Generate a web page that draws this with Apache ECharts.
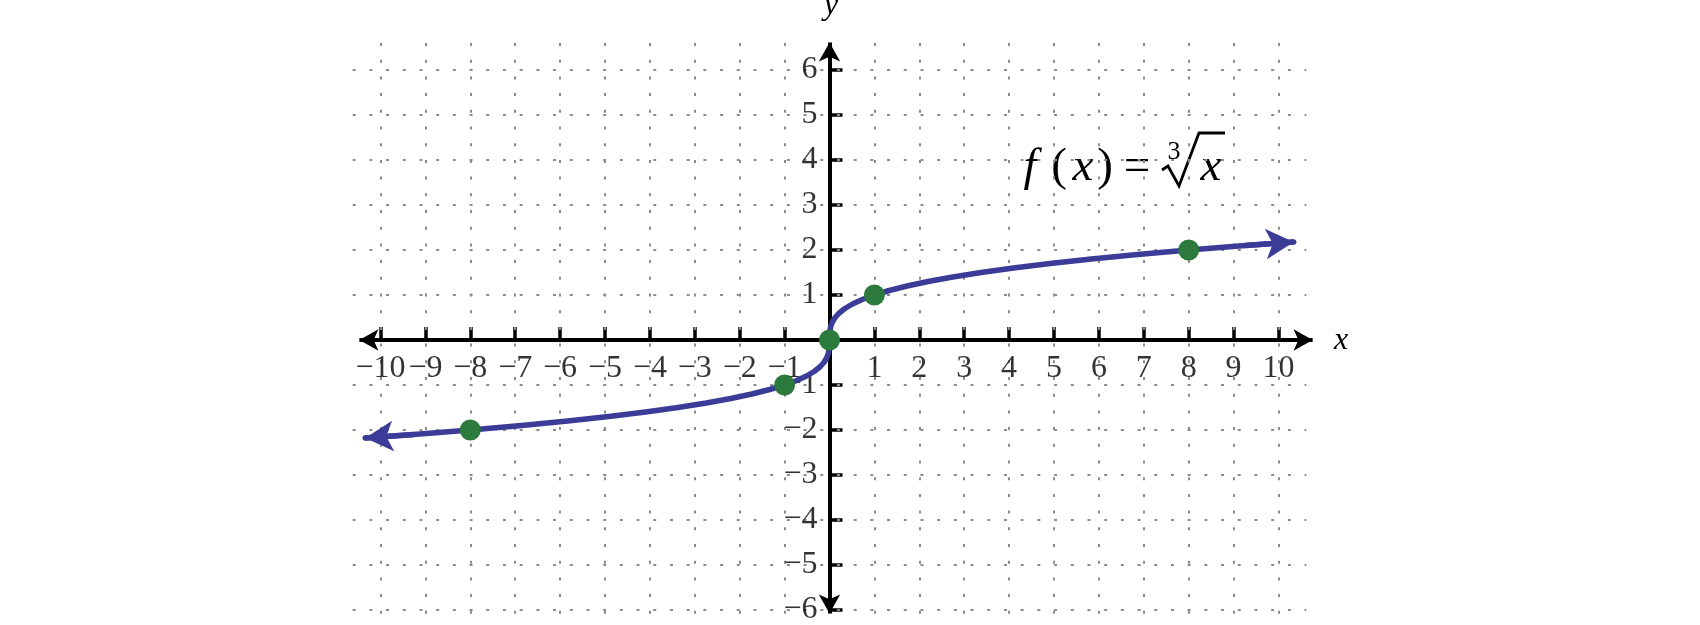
<!DOCTYPE html>
<html><head><meta charset="utf-8">
<script src="https://cdn.jsdelivr.net/npm/echarts@6/dist/echarts.min.js"></script>
<style>html,body{margin:0;padding:0;background:#fff}#c{width:1700px;height:625px}</style>
</head><body><div id="c"></div>
<script>
// ---- data ----
const xTickValues = [-10,-9,-8,-7,-6,-5,-4,-3,-2,-1,1,2,3,4,5,6,7,8,9,10];
const yTickValues = [-6,-5,-4,-3,-2,-1,1,2,3,4,5,6];
const curveX = [-10.34,-9.261,-8,-6.859,-5.832,-4.913,-4.096,-3.375,-2.744,-2.197,-1.728,-1.331,-1,-0.729,-0.512,-0.343,-0.216,-0.125,-0.064,-0.027,-0.008,-0.001,0,0.001,0.008,0.027,0.064,0.125,0.216,0.343,0.512,0.729,1,1.331,1.728,2.197,2.744,3.375,4.096,4.913,5.832,6.859,8,9.261,10.34];
const curveY = [-2.178,-2.1,-2,-1.9,-1.8,-1.7,-1.6,-1.5,-1.4,-1.3,-1.2,-1.1,-1,-0.9,-0.8,-0.7,-0.6,-0.5,-0.4,-0.3,-0.2,-0.1,0,0.1,0.2,0.3,0.4,0.5,0.6,0.7,0.8,0.9,1,1.1,1.2,1.3,1.4,1.5,1.6,1.7,1.8,1.9,2,2.1,2.178];
const pointX = [-8,-1,0,1,8];
const pointY = [-2,-1,0,1,2];
const xAxisName = 'x';
const yAxisName = 'y';

// ---- layout / style constants ----
const X_MIN = -11, X_MAX = 11, Y_MIN = -7, Y_MAX = 7;
const GRID_X_EXT = 10.62, GRID_Y_TOP = 6.6, GRID_Y_BOT = -6.7;
const X_AXIS_ENDS = [-10.47, 10.76], Y_AXIS_ENDS = [6.61, -6.08];
const BLUE = '#3b3b98', GREEN = '#2d7b3c', GRAYDOT = '#8c8c8c';
const SERIF = 'Liberation Serif';

const fmt = v => v < 0 ? '\u2212' + (-v) : String(v);

const gridLines = [];
yTickValues.forEach(v => gridLines.push({coords: [[-GRID_X_EXT, v], [GRID_X_EXT, v]]}));
xTickValues.forEach(v => gridLines.push({coords: [[v, GRID_Y_TOP], [v, GRID_Y_BOT]]}));

const curveData = curveX.map((x, i) => [x, curveY[i]]);
const n = curveData.length;
const curveArrows = [
  {coords: [curveData[1], curveData[0]]},
  {coords: [curveData[n - 2], curveData[n - 1]]}
];

const chart = echarts.init(document.getElementById('c'), null, {renderer: 'canvas'});
const gl = 335.6, gw = 987.8, gt = 25, gh = 630;

const tickFont = {fontFamily: SERIF, fontSize: 32, color: '#000'};
const formulaFont = {fontFamily: SERIF, fontSize: 47, fill: '#000', verticalAlign: 'middle', align: 'center'};
const FY = 168;
chart.setOption({
  animation: false,
  grid: {left: gl, width: gw, top: gt, height: gh, containLabel: false, outerBoundsMode: 'none'},
  xAxis: {
    type: 'value', min: X_MIN, max: X_MAX, interval: 1,
    axisLine: {show: true, onZero: true, lineStyle: {opacity: 0}},
    axisTick: {show: true, inside: true, length: 13, customValues: xTickValues, lineStyle: {color: '#000', width: 3.5}},
    axisLabel: {show: false},
    splitLine: {show: false}
  },
  yAxis: {
    type: 'value', min: Y_MIN, max: Y_MAX, interval: 1,
    axisLine: {show: true, onZero: true, lineStyle: {opacity: 0}},
    axisTick: {show: true, inside: true, length: 13, customValues: yTickValues, lineStyle: {color: '#000', width: 3.5}},
    axisLabel: {show: false},
    splitLine: {show: false}
  },
  series: [
    {type: 'lines', coordinateSystem: 'cartesian2d', z: 1, silent: true, symbol: 'none',
     lineStyle: {color: GRAYDOT, width: 2, type: [3, 13.7], opacity: 1}, data: gridLines},
    // x tick labels
    {type: 'scatter', z: 2, silent: true, symbolSize: 0, data: xTickValues.map(v => [v, 0]),
     label: Object.assign({show: true, position: 'bottom', distance: 13, formatter: p => fmt(p.value[0])}, tickFont)},
    // y tick labels
    {type: 'scatter', z: 2, silent: true, symbolSize: 0, data: yTickValues.map(v => [0, v]),
     label: Object.assign({show: true, position: 'left', distance: 12, formatter: p => fmt(p.value[1])}, tickFont)},
    {type: 'lines', coordinateSystem: 'cartesian2d', z: 3, silent: true,
     symbol: ['arrow', 'arrow'], symbolSize: [[16, 19], [16, 19]],
     lineStyle: {color: '#000', width: 4, opacity: 1},
     data: [{coords: [[X_AXIS_ENDS[0], 0], [X_AXIS_ENDS[1], 0]]}, {coords: [[0, Y_AXIS_ENDS[0]], [0, Y_AXIS_ENDS[1]]]}]},
    {type: 'line', data: curveData, symbol: 'none', showSymbol: false, z: 4, silent: true,
     lineStyle: {color: BLUE, width: 5.5, cap: 'round', join: 'round'}},
    {type: 'lines', coordinateSystem: 'cartesian2d', z: 4, silent: true,
     symbol: ['none', 'arrow'], symbolSize: [[1, 1], [23, 28]],
     itemStyle: {color: BLUE},
     lineStyle: {color: BLUE, width: 5.5, opacity: 1}, data: curveArrows},
    {type: 'scatter', data: pointX.map((x, i) => [x, pointY[i]]), symbol: 'circle', symbolSize: 21, z: 5,
     itemStyle: {color: GREEN, opacity: 1}}
  ],
  graphic: [
    {type: 'text', x: 1341, y: 341, style: {text: xAxisName, fontFamily: SERIF, fontStyle: 'italic', fontSize: 32, fill: '#000', align: 'center', verticalAlign: 'middle'}},
    {type: 'text', x: 831, y: 6, style: {text: yAxisName, fontFamily: SERIF, fontStyle: 'italic', fontSize: 32, fill: '#000', align: 'center', verticalAlign: 'middle'}},
    {type: 'text', x: 1030, y: FY, style: Object.assign({text: 'f', fontStyle: 'italic'}, formulaFont)},
    {type: 'text', x: 1059, y: FY, style: Object.assign({text: '('}, formulaFont)},
    {type: 'text', x: 1083, y: FY, style: Object.assign({text: 'x', fontStyle: 'italic'}, formulaFont)},
    {type: 'text', x: 1105, y: FY, style: Object.assign({text: ')'}, formulaFont)},
    {type: 'text', x: 1137, y: FY, style: Object.assign({text: '='}, formulaFont)},
    {type: 'text', x: 1211, y: FY, style: Object.assign({text: 'x', fontStyle: 'italic'}, formulaFont)},
    {type: 'text', x: 1174, y: 152, style: {text: '3', fontFamily: SERIF, fontSize: 26, fill: '#000', align: 'center', verticalAlign: 'middle'}},
    {type: 'polyline', shape: {points: [[1162, 170], [1168, 166], [1179, 186], [1199, 133], [1225, 133]]},
     style: {stroke: '#000', lineWidth: 2.8, fill: null, lineJoin: 'miter'}}
  ]
});
</script></body></html>
